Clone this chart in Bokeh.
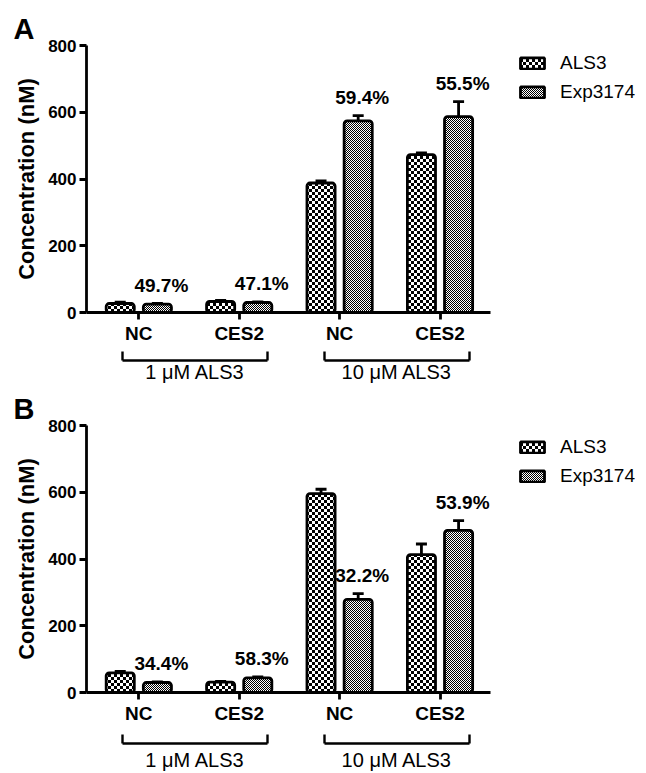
import base64, struct, zlib
from bokeh.plotting import figure
from bokeh.models import (Range1d, FixedTicker, LinearAxis, Legend, LegendItem,
                          Whisker, TeeHead, ColumnDataSource, ImageURLTexture)
from bokeh.layouts import column
from bokeh.embed import file_html
from bokeh.resources import INLINE
from bokeh.core.properties import value

# ---------------- data ----------------
categories = ["NC", "CES2", "NC", "CES2"]
groups = ["1 \u03bcM ALS3", "10 \u03bcM ALS3"]
series = ["ALS3", "Exp3174"]
yticks = [0, 200, 400, 600, 800]

A_als3 = [27, 33, 388, 473]
A_als3_err = [4, 3, 6, 5]
A_exp = [25, 30, 574, 587]
A_exp_err = [2, 2, 16, 45]
A_pct = ["49.7%", "47.1%", "59.4%", "55.5%"]

B_als3 = [59, 31, 596, 413]
B_als3_err = [4, 2, 13, 32]
B_exp = [30, 44, 279, 486]
B_exp_err = [2, 3, 17, 29]
B_pct = ["34.4%", "58.3%", "32.2%", "53.9%"]

FONT = "Liberation Sans"


def png_uri(rows):
    h = len(rows); w = len(rows[0])
    raw = b"".join(b"\x00" + bytes(r) for r in rows)

    def chunk(t, d):
        return struct.pack(">I", len(d)) + t + d + struct.pack(">I", zlib.crc32(t + d) & 0xffffffff)
    data = (b"\x89PNG\r\n\x1a\n" + chunk(b"IHDR", struct.pack(">IIBBBBB", w, h, 8, 0, 0, 0, 0))
            + chunk(b"IDAT", zlib.compress(raw)) + chunk(b"IEND", b""))
    return "data:image/png;base64," + base64.b64encode(data).decode()


def checker(n):
    return [[0 if ((x // n) + (y // n)) % 2 == 0 else 255 for x in range(2 * n)] for y in range(2 * n)]


TEX = {"ALS3": ImageURLTexture(url=png_uri(checker(3))),
       "Exp3174": ImageURLTexture(url=png_uri(checker(1)))}

OFFS = 0.185
BARW = 0.28
PX_UNIT = 100.4
X0 = -0.521                      # left end of x axis
AXIS_END = 3.503                 # right end of the drawn x axis
FRAME_LEFT = 86
FRAME_W = 646 - FRAME_LEFT
X1 = X0 + FRAME_W / PX_UNIT
# bracket geometry (layout)
BR_START, BR_END = -0.16, 1.285
BR_GAP_START = 1.85
GROUP_CENTERS = [0.56, 2.57]


def make_panel(letter, als, als_err, exp, exp_err, pct, height, top_border, fh, legend_gap,
               grp_standoff, spacer_size):
    p = figure(width=646, height=height, x_range=Range1d(X0, X1), y_range=Range1d(0, 800),
               output_backend="svg", toolbar_location=None,
               min_border_left=FRAME_LEFT, min_border_right=0, min_border_top=top_border,
               min_border_bottom=height - top_border - fh)
    p.xgrid.visible = False
    p.ygrid.visible = False
    p.outline_line_color = None
    p.background_fill_color = "white"
    p.border_fill_color = "white"

    p.title.text = letter
    p.title.align = "left"
    p.title.offset = -73
    p.title.standoff = 2
    p.title.text_font = FONT
    p.title.text_font_style = "bold"
    p.title.text_font_size = "29px"
    p.title.text_color = "black"

    renderers = []
    for k, (vals, errs) in enumerate([(als, als_err), (exp, exp_err)]):
        xs = [i + (-OFFS if k == 0 else OFFS) for i in range(len(categories))]
        src = ColumnDataSource(dict(x=xs, top=vals, upper=[v + e for v, e in zip(vals, errs)]))
        r = p.vbar(x="x", top="top", bottom=0, width=BARW, source=src,
                   fill_color="white", line_color="black", line_width=2.8,
                   hatch_pattern=value(series[k]), hatch_extra={series[k]: TEX[series[k]]},
                   hatch_alpha=1.0, border_radius=3)
        renderers.append(r)
        p.add_layout(Whisker(source=src, base="x", upper="upper", lower="top", dimension="height",
                             line_color="black", line_width=2.8,
                             upper_head=TeeHead(size=11, line_width=2.8, line_color="black"),
                             lower_head=None))
        if k == 1:
            tsrc = ColumnDataSource(dict(x=xs, y=src.data["upper"], t=pct))
            p.text(x="x", y="y", text="t", source=tsrc, x_offset=4, y_offset=-18,
                   text_align="center", text_baseline="middle", text_font=value(FONT),
                   text_font_style="bold", text_font_size="19px", text_color="black")

    # y axis
    ya = p.yaxis[0]
    ya.ticker = FixedTicker(ticks=yticks, minor_ticks=[])
    ya.axis_label = "Concentration (nM)"
    ya.axis_label_text_font = FONT
    ya.axis_label_text_font_style = "bold"
    ya.axis_label_text_font_size = "22px"
    ya.axis_label_text_color = "black"
    ya.axis_label_standoff = 6
    ya.major_label_text_font = FONT
    ya.major_label_text_font_style = "bold"
    ya.major_label_text_font_size = "17px"
    ya.major_label_text_color = "black"
    ya.major_label_standoff = 3
    ya.major_tick_out = 7
    ya.major_tick_in = 0
    ya.minor_tick_line_color = None
    ya.axis_line_width = 2.8
    ya.major_tick_line_width = 2.8

    # x axis (drawn only up to the last category)
    xa = p.xaxis[0]
    xa.bounds = (X0, AXIS_END)
    xa.ticker = FixedTicker(ticks=list(range(len(categories))), minor_ticks=[])
    xa.major_label_overrides = {i: c for i, c in enumerate(categories)}
    xa.major_label_text_font = FONT
    xa.major_label_text_font_style = "bold"
    xa.major_label_text_font_size = "19px"
    xa.major_label_text_color = "black"
    xa.major_label_standoff = 3
    xa.major_tick_out = 7
    xa.major_tick_in = 0
    xa.axis_line_width = 2.8
    xa.major_tick_line_width = 2.8
    xa.minor_tick_line_color = None
    xa.axis_label = " "
    xa.axis_label_text_font_size = spacer_size
    xa.axis_label_standoff = 0

    # group bracket axis
    br_len = round((BR_END - BR_START) * PX_UNIT)
    br_gap = round((BR_GAP_START - BR_END) * PX_UNIT)
    ga = LinearAxis(bounds=(BR_START, BR_GAP_START + (BR_END - BR_START)),
                    ticker=FixedTicker(ticks=GROUP_CENTERS,
                                       minor_ticks=[BR_START, BR_END, BR_GAP_START, BR_GAP_START + (BR_END - BR_START)]))
    ga.major_label_overrides = {c: g for c, g in zip(GROUP_CENTERS, groups)}
    ga.major_label_text_font = FONT
    ga.major_label_text_font_style = "normal"
    ga.major_label_text_font_size = "20px"
    ga.major_label_text_color = "black"
    ga.major_label_standoff = grp_standoff
    ga.major_tick_line_color = None
    ga.major_tick_in = 0
    ga.major_tick_out = 0
    ga.minor_tick_in = 9
    ga.minor_tick_out = 0
    ga.minor_tick_line_width = 2.4
    ga.axis_line_width = 2.4
    ga.axis_line_dash = f"{br_len} {br_gap}"
    p.add_layout(ga, "below")

    # legend (inside the widened frame, right of the axis end)
    items = [LegendItem(label=s, renderers=[r]) for s, r in zip(series, renderers)]
    leg = Legend(items=items, location=(431, fh - legend_gap - 51), orientation="vertical",
                 glyph_width=30, glyph_height=14, label_text_font=FONT, label_text_font_size="19px",
                 label_text_color="black",
                 label_standoff=13, spacing=7, padding=0, margin=0, border_line_color=None,
                 background_fill_alpha=0, label_height=22)
    p.add_layout(leg)
    return p


pA = make_panel("A", A_als3, A_als3_err, A_exp, A_exp_err, A_pct, 386, 45, 267, 6.5, 0, "10px")
pB = make_panel("B", B_als3, B_als3_err, B_exp, B_exp_err, B_pct, 387, 39, 267, 10.5, 5, "12px")

layout = column(pA, pB, spacing=0)
open("out.html", "w").write(file_html(layout, INLINE))
